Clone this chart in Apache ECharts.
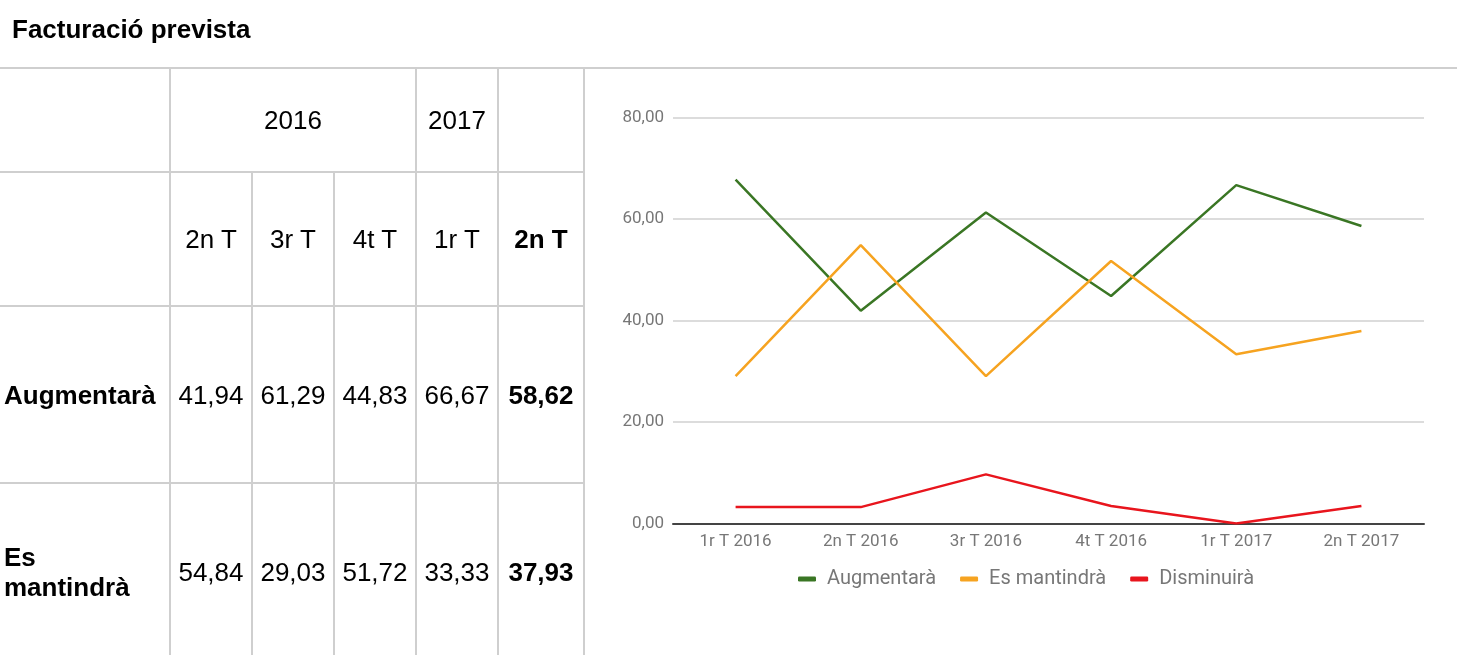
<!DOCTYPE html>
<html>
<head>
<meta charset="utf-8">
<script src="https://cdn.jsdelivr.net/npm/echarts@6/dist/echarts.min.js"></script>
<style>
  html, body { margin:0; padding:0; background:#fff; width:1457px; height:655px; overflow:hidden; }
  #chart { position:absolute; left:0; top:0; width:1457px; height:655px; }
  #table { position:absolute; left:0; top:0; width:1457px; height:655px; font-family:"Liberation Sans", Arial, sans-serif; color:#000; }
  .ln { position:absolute; background:#cfcfcf; }
  .tx { position:absolute; display:flex; align-items:center; font-size:26px; line-height:30px; white-space:nowrap; }
</style>
</head>
<body>
<div id="chart"></div>
<div id="table"></div>
<script>
// ---- data ----
const title = "Facturació prevista";
const chartCategories = ["1r T 2016", "2n T 2016", "3r T 2016", "4t T 2016", "1r T 2017", "2n T 2017"];
const seriesNames = ["Augmentarà", "Es mantindrà", "Disminuirà"];
const augmentara = [67.74, 41.94, 61.29, 44.83, 66.67, 58.62];
const esMantindra = [29.03, 54.84, 29.03, 51.72, 33.33, 37.93];
const disminuira = [3.23, 3.23, 9.68, 3.45, 0.00, 3.45];
const tableYears = ["2016", "2017", ""];
const tableQuarters = ["2n T", "3r T", "4t T", "1r T", "2n T"];
const tableRowLabels = ["Augmentarà", "Es<br>mantindrà"];
const yTicks = [0, 20, 40, 60, 80];

// ---- table (layout) ----
const tbl = document.getElementById('table');
const colX = [0, 170, 252, 334, 416, 498, 584];
const rowY = [68, 172, 306, 483, 660];
function add(cls, style, html) {
  const d = document.createElement('div');
  d.className = cls;
  Object.assign(d.style, style);
  if (html !== undefined) d.innerHTML = html;
  tbl.appendChild(d);
  return d;
}
// title
add('tx', {left:'12px', top:'14px', height:'30px', fontWeight:'bold', fontSize:'26px'}, title);
// top line across page
add('ln', {left:'0px', top:(rowY[0]-1)+'px', width:'1457px', height:'2px'});
// horizontal row lines
for (let i = 1; i < rowY.length - 1; i++) {
  add('ln', {left:'0px', top:(rowY[i]-1)+'px', width:colX[6]+'px', height:'2px'});
}
// vertical lines
const vSpans = {1:[68,655], 2:[172,655], 3:[172,655], 4:[68,655], 5:[68,655], 6:[68,655]};
for (const k in vSpans) {
  const [a,b] = vSpans[k];
  add('ln', {left:(colX[k]-1)+'px', top:a+'px', width:'2px', height:(b-a)+'px'});
}
function cell(x0, x1, y0, y1, html, opts) {
  const s = Object.assign({left:x0+'px', top:y0+'px', width:(x1-x0)+'px', height:(y1-y0)+'px', justifyContent:'center'}, opts || {});
  add('tx', s, html);
}
// years row
cell(colX[1], colX[4], rowY[0], rowY[1], tableYears[0]);
cell(colX[4], colX[5], rowY[0], rowY[1], tableYears[1]);
cell(colX[5], colX[6], rowY[0], rowY[1], tableYears[2]);
// quarters row
tableQuarters.forEach((q, i) => {
  cell(colX[i+1], colX[i+2], rowY[1], rowY[2], q, i === tableQuarters.length-1 ? {fontWeight:'bold'} : {});
});
// data rows
const tableSeries = [augmentara.slice(1), esMantindra.slice(1)];
const fmt = v => v.toFixed(2).replace('.', ',');
tableSeries.forEach((vals, r) => {
  const y0 = rowY[r+2], y1 = Math.min(rowY[r+3], 660);
  cell(colX[0] + 4, colX[1], y0, y1, tableRowLabels[r], {justifyContent:'flex-start', fontWeight:'bold', lineHeight:'30px', whiteSpace:'normal'});
  vals.forEach((v, i) => {
    cell(colX[i+1], colX[i+2], y0, y1, fmt(v), i === vals.length-1 ? {fontWeight:'bold'} : {});
  });
});

// ---- chart ----
const chart = echarts.init(document.getElementById('chart'), null, {renderer:'canvas'});
const colors = ['#3a7624', '#f6a320', '#e8151d'];
chart.setOption({
  animation: false,
  color: colors,
  textStyle: { fontFamily: 'Roboto, sans-serif' },
  grid: { left: 673, right: 33, top: 117.5, bottom: 131.5, containLabel: false },
  legend: {
    data: seriesNames,
    left: 798, top: 569,
    padding: 0,
    icon: 'roundRect',
    itemWidth: 18, itemHeight: 5,
    itemGap: 24,
    textStyle: { color: '#777', fontSize: 20, fontFamily: 'Roboto, sans-serif', padding: [0, 0, 0, 6] }
  },
  xAxis: {
    type: 'category',
    data: chartCategories,
    boundaryGap: true,
    axisLine: { lineStyle: { color: '#444', width: 2 } },
    axisTick: { show: false },
    axisLabel: { color: '#777', fontSize: 17, margin: 10 }
  },
  yAxis: {
    type: 'value',
    min: yTicks[0], max: yTicks[yTicks.length-1], interval: 20,
    axisLine: { show: false },
    axisTick: { show: false },
    splitLine: { lineStyle: { color: '#dcdcdc', width: 2 } },
    axisLabel: { color: '#777', fontSize: 17, margin: 9, formatter: v => v.toFixed(2).replace('.', ',') }
  },
  series: [
    { name: seriesNames[0], type: 'line', data: augmentara, symbol: 'none', lineStyle: { width: 2.5 } },
    { name: seriesNames[1], type: 'line', data: esMantindra, symbol: 'none', lineStyle: { width: 2.5 } },
    { name: seriesNames[2], type: 'line', data: disminuira, symbol: 'none', lineStyle: { width: 2.5 } }
  ]
});
</script>
</body>
</html>
